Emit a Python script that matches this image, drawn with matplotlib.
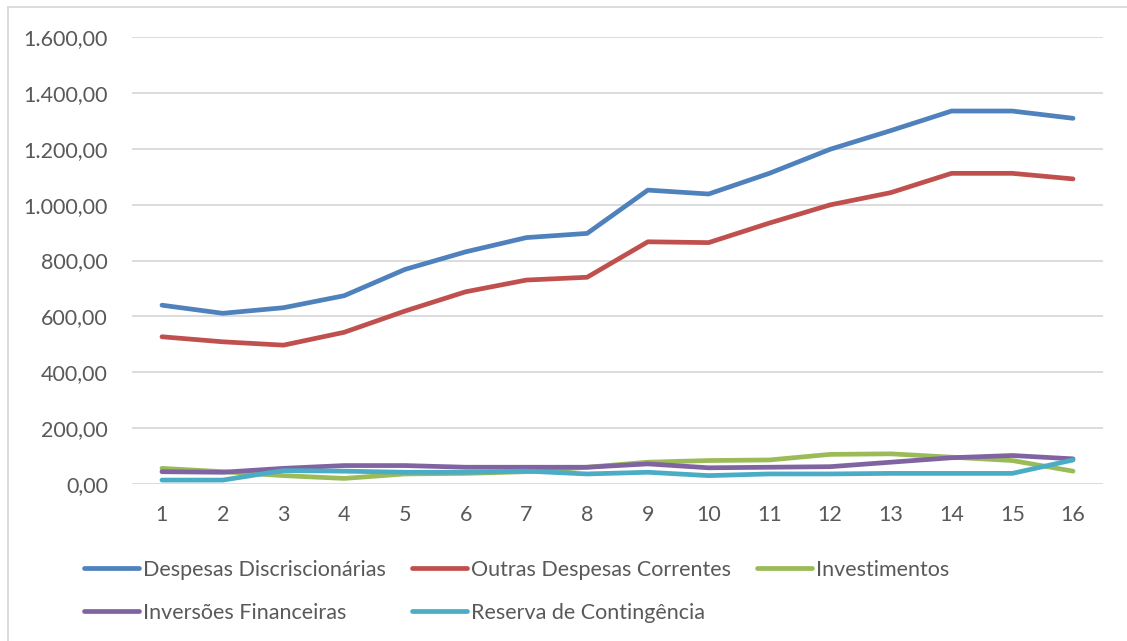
import numpy as np
import matplotlib.pyplot as plt
from matplotlib.ticker import FuncFormatter
from matplotlib.lines import Line2D

## data
periodos = list(range(1, 17))
discricionarias = [640, 611, 631, 674, 768, 831, 882, 897, 1052, 1038, 1112, 1198, 1265, 1335, 1335, 1309]
outras_correntes = [527, 509, 497, 543, 619, 688, 730, 740, 867, 864, 934, 999, 1043, 1112, 1112, 1092]
investimentos = [56, 44, 30, 20, 36, 38, 44, 60, 78, 84, 86, 106, 108, 96, 84, 46]
inversoes = [44, 42, 56, 66, 66, 60, 60, 60, 72, 58, 60, 62, 78, 94, 102, 90]
reserva = [14, 14, 48, 46, 42, 42, 46, 36, 42, 30, 36, 36, 38, 38, 38, 86]

nomes = ['Despesas Discriscionárias', 'Outras Despesas Correntes', 'Investimentos',
         'Inversões Financeiras', 'Reserva de Contingência']
cores = ['#4F81BD', '#C0504D', '#9BBB59', '#8064A2', '#4BACC6']
series = [discricionarias, outras_correntes, investimentos, inversoes, reserva]

plt.rcParams['font.family'] = ['Lato', 'DejaVu Sans']
cinza = '#595959'
fs = 15.5

W, H = 1127, 641
fig = plt.figure(figsize=(W/100, H/100), dpi=100)
ax = fig.add_axes([131.6/W, (H-484)/H, 971.8/W, 447/H])

for ys, c, n in zip(series, cores, nomes):
    ax.plot(periodos, ys, color=c, lw=3.4, solid_capstyle='round', solid_joinstyle='round', label=n)

ax.set_xlim(0.5, 16.5)
ax.set_ylim(0, 1600)
ax.set_xticks(periodos)
ax.set_yticks(np.arange(0, 1601, 200))

def fmt_br(v, pos):
    s = '{:,.2f}'.format(v)
    return s.replace(',', 'X').replace('.', ',').replace('X', '.')

ax.yaxis.set_major_formatter(FuncFormatter(fmt_br))
ax.tick_params(axis='both', length=0, labelsize=fs, labelcolor=cinza)
ax.tick_params(axis='y', pad=17)
ax.tick_params(axis='x', pad=15)
ax.grid(axis='y', color='#D9D9D9', lw=1.3)
ax.set_axisbelow(True)
for s in ax.spines.values():
    s.set_visible(False)

## legend below the plot
handles = [Line2D([], [], color=c, lw=3.4, solid_capstyle='round') for c in cores]
order = [0, 3, 1, 4, 2]
leg = fig.legend([handles[i] for i in order], [nomes[i] for i in order],
                 loc='upper left', bbox_to_anchor=(84/W, 1-560/H), ncol=3,
                 frameon=False, fontsize=fs, handlelength=2.55, handletextpad=0.2,
                 columnspacing=1.2, labelspacing=1.05, borderaxespad=0, borderpad=0)
for t in leg.get_texts():
    t.set_color(cinza)

## chart frame (only left and top visible in the crop)
fig.add_artist(Line2D([8/W, 8/W], [0, 1-7/H], color='#D9D9D9', lw=1.3))
fig.add_artist(Line2D([8/W, 1], [1-7/H, 1-7/H], color='#D9D9D9', lw=1.3))

fig.savefig('out.png', dpi=100)
